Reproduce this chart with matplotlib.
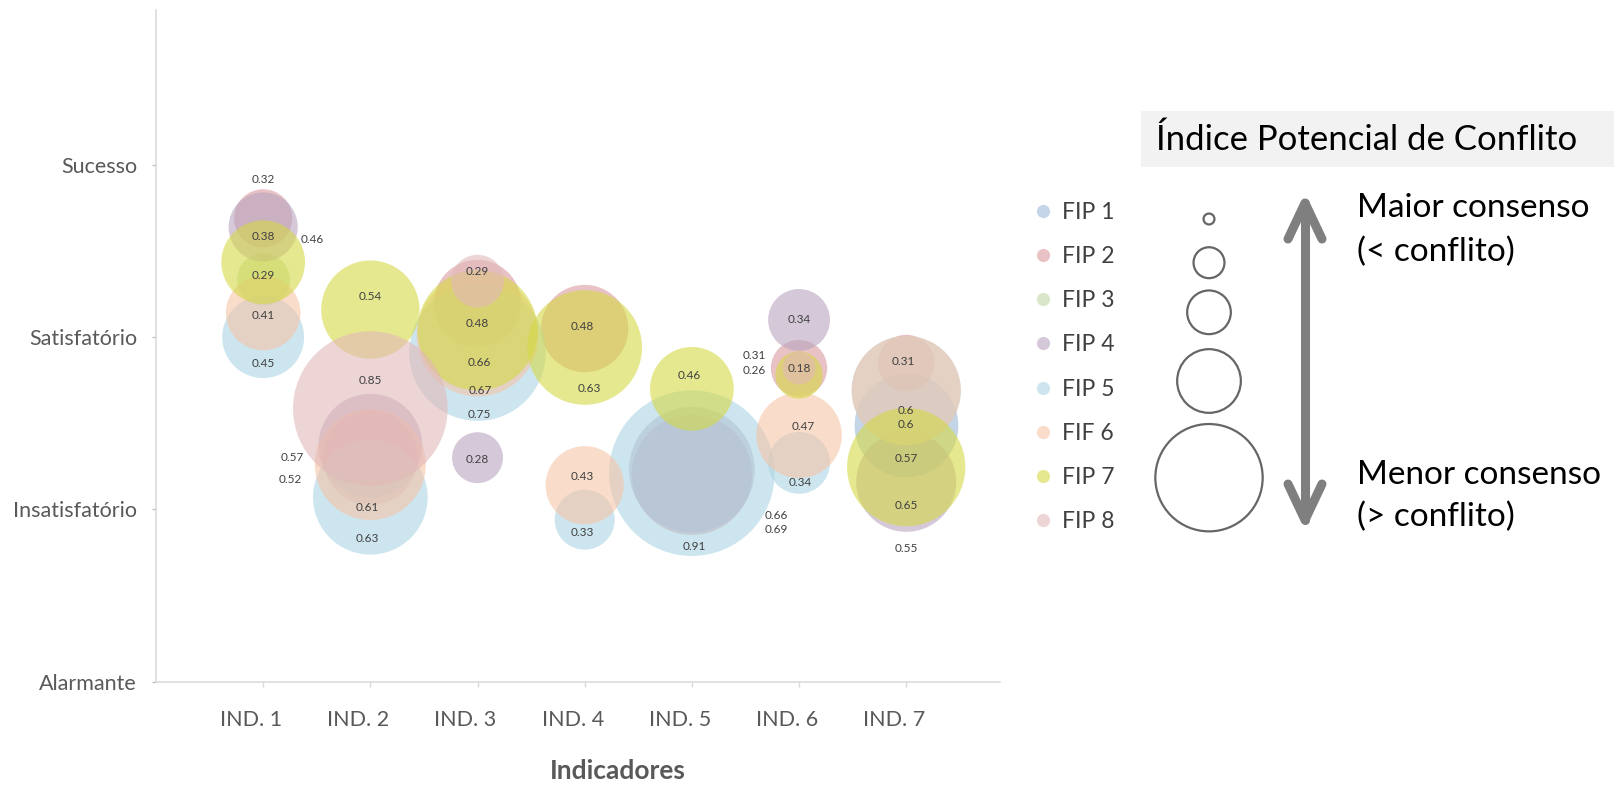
import numpy as np
import matplotlib
matplotlib.use("Agg")
import matplotlib.pyplot as plt
import matplotlib.transforms as mtransforms
from matplotlib.lines import Line2D
from matplotlib.patches import Rectangle

plt.rcParams['font.family'] = ['Lato', 'DejaVu Sans']

# ---------------------------------------------------------------- data
indicators = ["IND. 1", "IND. 2", "IND. 3", "IND. 4", "IND. 5", "IND. 6", "IND. 7"]
levels = ["Alarmante", "Insatisfatório", "Satisfatório", "Sucesso"]
series_names = ["FIP 1", "FIP 2", "FIP 3", "FIP 4", "FIP 5", "FIF 6", "FIP 7", "FIP 8"]

nan = np.nan
# average classification per indicator (0 = Alarmante ... 3 = Sucesso)
fip1_score = [nan, nan, nan, nan, nan, nan, 1.49]
fip2_score = [2.69, 1.30, 2.195, 2.05, 1.20, 1.82, 1.85]
fip3_score = [2.34, nan, nan, nan, nan, nan, nan]
fip4_score = [2.64, 1.37, 1.30, nan, 1.23, 2.10, 1.16]
fip5_score = [2.00, 1.07, 1.91, 0.94, 1.21, 1.27, 1.69]
fif6_score = [2.14, 1.26, 2.01, 1.14, nan, 1.43, 1.69]
fip7_score = [2.435, 2.16, 2.04, 1.94, 1.70, 1.78, 1.245]
fip8_score = [nan, 1.585, 2.325, nan, nan, 1.82, nan]

# conflict potential index (bubble size)
fip1_ipc = [nan, nan, nan, nan, nan, nan, 0.57]
fip2_ipc = [0.32, 0.52, 0.48, 0.48, 0.66, 0.31, 0.31]
fip3_ipc = [0.29, nan, nan, nan, nan, nan, nan]
fip4_ipc = [0.38, 0.57, 0.28, nan, 0.69, 0.34, 0.55]
fip5_ipc = [0.45, 0.63, 0.75, 0.33, 0.91, 0.34, 0.6]
fif6_ipc = [0.41, 0.61, 0.67, 0.43, nan, 0.47, 0.6]
fip7_ipc = [0.46, 0.54, 0.66, 0.63, 0.46, 0.26, 0.65]
fip8_ipc = [nan, 0.85, 0.29, nan, nan, 0.18, nan]

scores = [fip1_score, fip2_score, fip3_score, fip4_score,
          fip5_score, fif6_score, fip7_score, fip8_score]
ipcs = [fip1_ipc, fip2_ipc, fip3_ipc, fip4_ipc,
        fip5_ipc, fif6_ipc, fip7_ipc, fip8_ipc]

# size key of the right-hand panel
key_sizes = [0.06, 0.17, 0.24, 0.35, 0.59]

# ---------------------------------------------------------------- style
colors = ["#9eb9d9", "#d99a9e", "#c2d6a6", "#b9a5c0",
          "#acd5e3", "#f5c5a8", "#d4d945", "#e2b8b9"]
ALPHA = 0.6
BUBBLE_PT = 65.5          # bubble radius in points per unit of index
LABEL_COLOR = "#404040"
AXIS_TEXT = "#595959"

# value-label offsets in points (dx, dy) for each series / indicator
label_offsets = [
    [None, None, None, None, None, None, (0, -24.5)],
    [(0, 28), (-58, -16), (0, -14.4), (-2, 1.5), (61, -29), (-32, 9.4), (-2, 0.7)],
    [(0, 2), None, None, None, None, None, None],
    [(0, -7), (-56, -8.6), (0, -1.4), None, (61, -43), (0, 0), (0, -48)],
    [(0, -18.7), (-2, -30), (1.4, -44.6), (-1.4, -9.4), (2, -52.6), (0.7, -14.4), (0, -14.4)],
    [(0, -2), (-2, -31), (2, -40), (-2, 6.5), None, (3, 6.5), (0, -24.5)],
    [(35, 16.6), (0, 9.4), (1.4, -23), (3, -29.5), (-2, 9.4), (-32, 3.6), (0, -27.4)],
    [None, (0, 20), (0, 7.2), None, None, (0, 0), None],
]

W, H = 1614, 785
fig = plt.figure(figsize=(W / 100, H / 100), dpi=100)
ax = fig.add_axes([156 / W, 1 - 681.5 / H, (1000 - 156) / W, (681.5 - 10) / H])

x = np.arange(1, len(indicators) + 1)
for k, (name, sc, ipc, col) in enumerate(zip(series_names, scores, ipcs, colors)):
    sc = np.asarray(sc, float)
    ipc = np.asarray(ipc, float)
    ok = ~np.isnan(sc)
    sizes = (2 * BUBBLE_PT * ipc[ok]) ** 2
    order = np.argsort(-ipc[ok])
    ax.scatter(x[ok][order], sc[ok][order], s=sizes[order], color=col,
               alpha=ALPHA, linewidths=0, zorder=2 + k)
    for i in np.where(ok)[0]:
        off = label_offsets[k][i] or (0, 0)
        ax.annotate(f"{ipc[i]:g}", (x[i], sc[i]), xytext=off,
                    textcoords="offset points", ha="center", va="center",
                    fontsize=8.5, color=LABEL_COLOR, zorder=20)

ax.set_xlim(0, 7.875)
ax.set_ylim(0, 3.9)
ax.set_xticks(x)
ax.set_xticklabels(indicators)
ax.set_yticks(range(len(levels)))
ax.set_yticklabels(levels)
for s in ("top", "right"):
    ax.spines[s].set_visible(False)
for s in ("left", "bottom"):
    ax.spines[s].set_color("#d9d9d9")
    ax.spines[s].set_linewidth(1.1)
ax.tick_params(axis="y", length=3.2, width=1, color="#bfbfbf", pad=10.5,
               labelsize=15.5, labelcolor=AXIS_TEXT)
ax.tick_params(axis="x", length=3.6, width=1, color="#d9d9d9", pad=17,
               labelsize=15.5, labelcolor=AXIS_TEXT)
# category labels sit slightly left of their tick marks
shift = mtransforms.ScaledTranslation(-12 / 100, 0, fig.dpi_scale_trans)
for lab in ax.get_xticklabels():
    lab.set_transform(lab.get_transform() + shift)
ax.set_xlabel("Indicadores", fontsize=19, fontweight="bold", color=AXIS_TEXT,
              va="center")
ax.xaxis.set_label_coords(0.547, -0.134)

# series legend
handles = [Line2D([], [], marker="o", ls="", markersize=9.5, markeredgewidth=0,
                  markerfacecolor=c, alpha=ALPHA) for c in colors]
leg = fig.legend(handles, series_names, loc="upper left",
                 bbox_to_anchor=(1034 / W, 1 - 202 / H), frameon=False,
                 fontsize=16.5, labelspacing=1.01, handlelength=0.8,
                 handletextpad=0.4, borderpad=0, borderaxespad=0)
for t in leg.get_texts():
    t.set_color("#404040")

# right-hand panel: conflict index key
ov = fig.add_axes([0, 0, 1, 1], facecolor="none")
ov.set_xlim(0, W)
ov.set_ylim(H, 0)
ov.axis("off")

ov.add_patch(Rectangle((1141, 111), W - 1141, 56, color="#f2f2f2", lw=0))
ov.text(1367, 140, "Índice Potencial de Conflito", ha="center", va="center",
        fontsize=25, color="black")

key_y = [219, 262.7, 312.3, 381, 477.7]
ov.scatter([1209] * len(key_sizes), key_y,
           s=[(2 * BUBBLE_PT * v) ** 2 for v in key_sizes],
           facecolors="none", edgecolors="#666666", linewidths=1.6)

ax_x, top, bot, arm_w, arm_h = 1305, 203, 520, 17, 36
arrow_kw = dict(color="#7f7f7f", lw=6.5, solid_capstyle="round",
                solid_joinstyle="round")
ov.plot([ax_x, ax_x], [top, bot], **arrow_kw)
ov.plot([ax_x - arm_w, ax_x, ax_x + arm_w], [top + arm_h, top, top + arm_h], **arrow_kw)
ov.plot([ax_x - arm_w, ax_x, ax_x + arm_w], [bot - arm_h, bot, bot - arm_h], **arrow_kw)

for txt, yy in [("Maior consenso", 208), ("(< conflito)", 252),
                ("Menor consenso", 475.5), ("(> conflito)", 517)]:
    ov.text(1357, yy, txt, ha="left", va="center", fontsize=24, color="black")

fig.savefig("out.png", dpi=100)
